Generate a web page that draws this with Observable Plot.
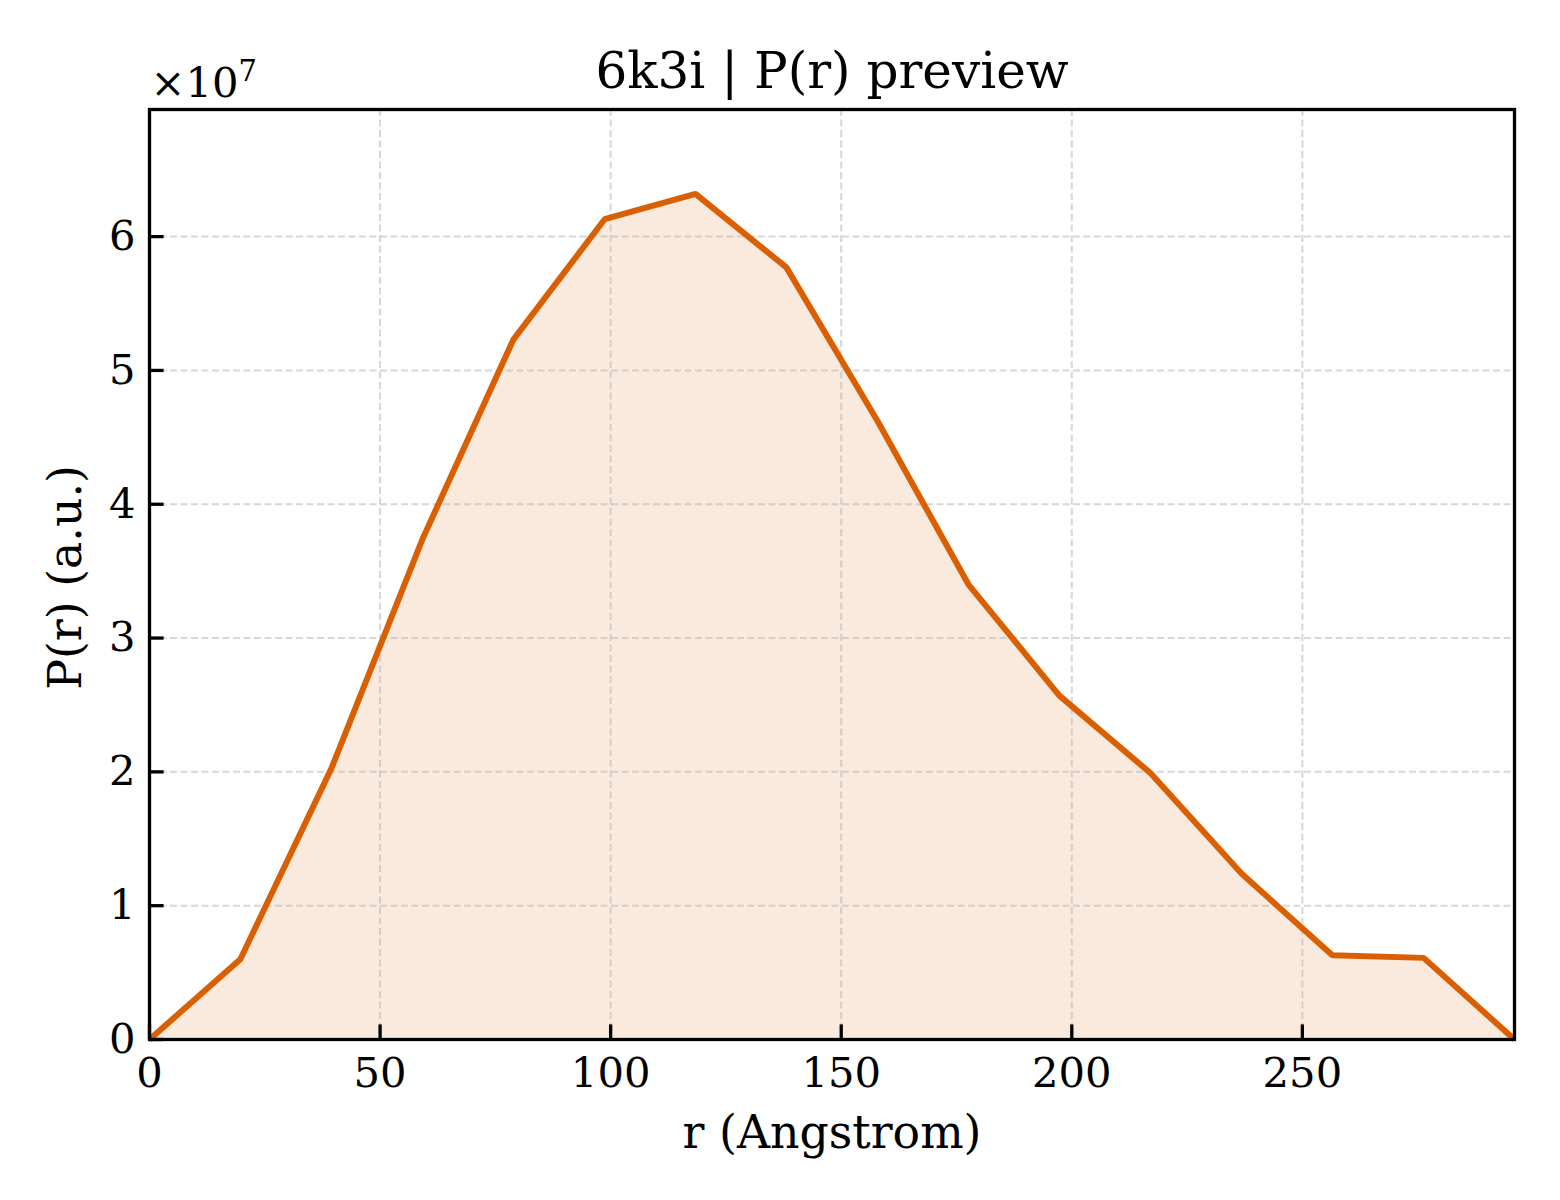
<!DOCTYPE html>
<html>
<head>
<meta charset="utf-8">
<script src="https://cdn.jsdelivr.net/npm/d3@7"></script>
<script src="https://cdn.jsdelivr.net/npm/@observablehq/plot@0.6"></script>
<style>
  html, body { margin: 0; padding: 0; background: #ffffff; }
</style>
</head>
<body>
<div id="chart"></div>
<script>
// ---- data ----
const rValues = [0, 19.7, 39.5, 59.2, 78.9, 98.7, 118.4, 138.1, 157.9, 177.6, 197.3, 217.1, 236.8, 256.5, 276.3, 296.0];
const prValues = [0, 0.60e7, 2.03e7, 3.74e7, 5.23e7, 6.13e7, 6.32e7, 5.77e7, 4.62e7, 3.40e7, 2.57e7, 1.99e7, 1.24e7, 0.63e7, 0.61e7, 0];
const xTicks = [0, 50, 100, 150, 200, 250];
const yTicks = [0, 1e7, 2e7, 3e7, 4e7, 5e7, 6e7];
const xDomain = [0, 296.0];
const yDomain = [0, 6.95e7];
const titleText = "6k3i | P(r) preview";
const xLabel = "r (Angstrom)";
const yLabel = "P(r) (a.u.)";
const offsetBase = "×10";
const offsetExp = "7";

const table = rValues.map((r, i) => ({r, p: prValues[i]}));

// ---- layout ----
const W = 1560, H = 1200;
const mL = 149, mR = 46, mT = 109, mB = 161;
const plotW = W - mL - mR, plotH = H - mT - mB;
const tickLen = 14.6;
const lineColor = "#d95f02";

const chart = Plot.plot({
  width: W,
  height: H,
  marginLeft: mL,
  marginRight: mR,
  marginTop: mT,
  marginBottom: mB,
  style: {fontFamily: "'DejaVu Serif', serif", fontSize: "41.7px", background: "#ffffff", color: "#000"},
  x: {domain: xDomain},
  y: {domain: yDomain},
  marks: [
    Plot.areaY(table, {x: "r", y: "p", fill: lineColor, fillOpacity: 0.13}),
    Plot.gridX(xTicks, {stroke: "#b0b0b0", strokeOpacity: 0.5, strokeWidth: 2, strokeDasharray: "7,3.5"}),
    Plot.gridY(yTicks, {stroke: "#b0b0b0", strokeOpacity: 0.5, strokeWidth: 2, strokeDasharray: "7,3.5"}),
    Plot.line(table, {x: "r", y: "p", stroke: lineColor, strokeWidth: 6, strokeLinejoin: "miter", strokeLinecap: "butt"}),
    Plot.frame({stroke: "#000", strokeWidth: 3.3}),
    // inward ticks
    Plot.tickX(xTicks, {x: d => d, insetTop: plotH - tickLen, stroke: "#000", strokeWidth: 3.3}),
    Plot.tickY(yTicks, {y: d => d, insetRight: plotW - tickLen, stroke: "#000", strokeWidth: 3.3}),
    Plot.axisX(xTicks, {tickSize: 0, tickPadding: 18, label: null, fontSize: 41.7, tickFormat: d => String(d)}),
    Plot.axisY(yTicks, {tickSize: 0, tickPadding: 14, label: null, fontSize: 41.7, tickFormat: d => String(Math.round(d / 1e7))}),
    Plot.text([titleText], {text: d => d, frameAnchor: "top", textAnchor: "middle", dy: -22, lineAnchor: "bottom", fontSize: 50, fill: "#000"}),
    Plot.text([offsetBase], {text: d => d, frameAnchor: "top-left", textAnchor: "start", dx: 1, dy: -13, lineAnchor: "bottom", fontSize: 41.7, fill: "#000"}),
    Plot.text([offsetExp], {text: d => d, frameAnchor: "top-left", textAnchor: "start", dx: 89, dy: -29, lineAnchor: "bottom", fontSize: 29, fill: "#000"}),
    Plot.text([xLabel], {text: d => d, frameAnchor: "bottom", textAnchor: "middle", dy: 108, lineAnchor: "bottom", fontSize: 45.8, fill: "#000"}),
    Plot.text([yLabel], {text: d => d, frameAnchor: "left", textAnchor: "middle", dx: -69, dy: 3, rotate: -90, lineAnchor: "bottom", fontSize: 45.8, fill: "#000"})
  ]
});
document.getElementById("chart").appendChild(chart);
</script>
</body>
</html>
